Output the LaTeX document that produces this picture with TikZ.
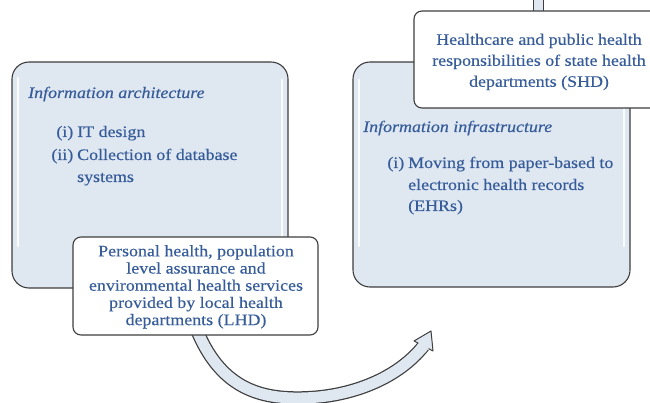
\documentclass[tikz,border=0pt]{standalone}
\usepackage{fontspec}
\setmainfont{Liberation Serif}[FakeStretch=1.12,FakeBold=0.35]
\definecolor{boxfill}{RGB}{223,231,241}
\definecolor{txtblue}{RGB}{54,92,154}
\definecolor{edgegray}{RGB}{62,62,62}
\begin{document}
\begin{tikzpicture}[x=1pt,y=-1pt,
  bigbox/.style={draw=edgegray,line width=1.1pt,fill=boxfill,rounded corners=17pt,inner sep=0pt},
  whitebox/.style={draw=edgegray,line width=1.1pt,fill=white,rounded corners=8pt,inner sep=0pt},
  gloss/.style={white,line width=2.6pt,line cap=round,opacity=0.9},
  txt/.style={text=txtblue,inner sep=0pt,font=\fontsize{16}{17}\selectfont},
  ttl/.style={txt,font=\fontsize{16}{17}\selectfont\itshape},
  ctr/.style={text=txtblue,inner sep=0pt,align=center}
]
\useasboundingbox (0,0) rectangle (650,403);
% small stub at top
\coordinate (stubA) at (533,-2);
\coordinate (stubB) at (543,13);
\fill[boxfill] (stubA) rectangle (stubB);
\draw[edgegray,line width=1pt] (533,-2) -- (533,13) (543,-2) -- (543,13);
% big boxes
\node[bigbox,minimum width=276pt,minimum height=226pt] (arch) at (150,175) {};
\node[bigbox,minimum width=277pt,minimum height=225pt] (infra) at (491.5,174.5) {};
% gloss highlights
\draw[gloss] (18,78) -- (18,246);
\draw[gloss] (282,80) -- (282,246);
\draw[gloss] (359,80) -- (359,246);
\draw[gloss] (624,80) -- (624,246);
% left box text
\node[ttl,anchor=base west] (archT) at (28,98) {Information architecture};
\node[txt,anchor=base east] (archL1) at (73.5,137) {(i)};
\node[txt,anchor=base west] (archI1) at (77,137) {IT design};
\node[txt,anchor=base east] (archL2) at (73.5,160) {(ii)};
\node[txt,anchor=base west] (archI2) at (77,160) {Collection of database};
\node[txt,anchor=base west] (archI3) at (77,182) {systems};
% right box text
\node[ttl,anchor=base west] (infT) at (363,132) {Information infrastructure};
\node[txt,anchor=base east] (infL1) at (404.5,168) {(i)};
\node[txt,anchor=base west] (infI1) at (408,168) {Moving from paper-based to};
\node[txt,anchor=base west] (infI2) at (408,190) {electronic health records};
\node[txt,anchor=base west] (infI3) at (408,211) {(EHRs)};
% SHD box
\node[whitebox,minimum width=250pt,minimum height=97pt] (shd) at (539,59.5) {};
\node[ctr,font=\fontsize{16}{21}\selectfont,anchor=north] (shdT) at (539,33.5)
  {Healthcare and public health\\responsibilities of state health\\departments (SHD)};
% curved arrow
\coordinate (arS) at (193,320);
\coordinate (arM) at (302,398);
\coordinate (arE) at (423.5,346);
\coordinate (arB) at (421,349.1);
\coordinate (arF) at (424.7,344.4);
\coordinate (tip) at (431,331);
\coordinate (barbA) at (414,341);
\coordinate (barbB) at (433,351);
\draw[edgegray,line width=13.5pt] (arS) .. controls (216,385) and (255,399) .. (arM)
  .. controls (352,397) and (398,378) .. (arE);
\draw[boxfill,line width=11pt] (arS) .. controls (216,385) and (255,399) .. (arM)
  .. controls (352,397) and (398,378) .. (arE);
\draw[edgegray,line width=1pt,fill=boxfill,line join=round] (barbA) -- (tip) -- (barbB) -- cycle;
\draw[boxfill,line width=11pt] (arB) -- (arF);
% LHD box
\node[whitebox,minimum width=245pt,minimum height=98pt] (lhd) at (195.5,286) {};
\node[ctr,font=\fontsize{16}{17.2}\selectfont,anchor=north] (lhdT) at (196,245)
  {Personal health, population\\level assurance and\\environmental health services\\provided by local health\\departments (LHD)};
\end{tikzpicture}
\end{document}
